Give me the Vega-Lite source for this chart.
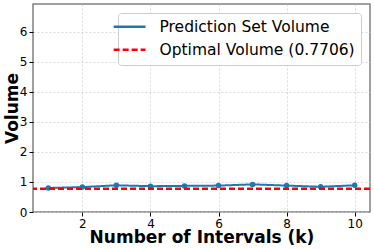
{
  "$schema": "https://vega.github.io/schema/vega-lite/v6.json",
  "autosize": "none",
  "width": 337,
  "height": 208,
  "padding": {"left": 33, "top": 4, "right": 4, "bottom": 37},
  "background": "white",
  "config": {
    "font": "DejaVu Sans",
    "view": {"stroke": "#808080", "strokeWidth": 1.5},
    "axis": {
      "labelFont": "DejaVu Sans", "labelFontSize": 12, "labelColor": "black",
      "titleFont": "DejaVu Sans", "titleFontSize": 17, "titleFontWeight": "bold", "titleColor": "black",
      "gridColor": "#d0d0d0", "gridDash": [2, 2], "gridWidth": 0.8,
      "tickColor": "black", "tickSize": 4, "domain": false, "labelOverlap": false, "labelFlush": false
    }
  },
  "datasets": {
    "pred": [
      {"k": 1, "volume": 0.80, "series": "Prediction Set Volume"},
      {"k": 2, "volume": 0.83, "series": "Prediction Set Volume"},
      {"k": 3, "volume": 0.89, "series": "Prediction Set Volume"},
      {"k": 4, "volume": 0.86, "series": "Prediction Set Volume"},
      {"k": 5, "volume": 0.87, "series": "Prediction Set Volume"},
      {"k": 6, "volume": 0.88, "series": "Prediction Set Volume"},
      {"k": 7, "volume": 0.92, "series": "Prediction Set Volume"},
      {"k": 8, "volume": 0.88, "series": "Prediction Set Volume"},
      {"k": 9, "volume": 0.84, "series": "Prediction Set Volume"},
      {"k": 10, "volume": 0.89, "series": "Prediction Set Volume"}
    ],
    "opt": [
      {"volume": 0.7706, "series": "Optimal Volume (0.7706)"}
    ]
  },
  "layer": [
    {
      "data": {"name": "pred"},
      "mark": {"type": "line", "strokeWidth": 2, "point": {"size": 30, "filled": true}},
      "encoding": {
        "x": {"field": "k", "type": "quantitative", "scale": {"domain": [0.55, 10.45], "nice": false, "zero": false},
              "axis": {"values": [2, 4, 6, 8, 10], "title": "Number of Intervals (k)", "titleY": 17}},
        "y": {"field": "volume", "type": "quantitative", "scale": {"domain": [0, 6.93], "nice": false},
              "axis": {"values": [0, 1, 2, 3, 4, 5, 6], "title": "Volume", "titleX": -21, "titleBaseline": "middle"}},
        "color": {"field": "series", "type": "nominal",
                  "scale": {"domain": ["Prediction Set Volume", "Optimal Volume (0.7706)"], "range": ["#1f77b4", "#ff0000"]},
                  "legend": {"title": null, "orient": "top-right", "offset": 9, "labelFontSize": 15.5, "labelFont": "DejaVu Sans", "labelLimit": 400,
                             "symbolType": "M-4.2,0H1.6", "symbolSize": 121, "symbolStrokeWidth": 2.5, "symbolOffset": 5,
                             "fillColor": "white", "strokeColor": "#cccccc", "padding": 6, "cornerRadius": 3, "rowPadding": 6, "labelOffset": 15}},
        "strokeDash": {"field": "series", "type": "nominal",
                       "scale": {"domain": ["Prediction Set Volume", "Optimal Volume (0.7706)"], "range": [[1, 0], [6, 3]]}}
      }
    },
    {
      "data": {"name": "opt"},
      "mark": {"type": "rule", "strokeWidth": 2.5},
      "encoding": {
        "y": {"field": "volume", "type": "quantitative",
              "axis": {"values": [0, 1, 2, 3, 4, 5, 6], "title": "Volume", "titleX": -21, "titleBaseline": "middle"}},
        "color": {"field": "series", "type": "nominal"},
        "strokeDash": {"field": "series", "type": "nominal"}
      }
    }
  ]
}
